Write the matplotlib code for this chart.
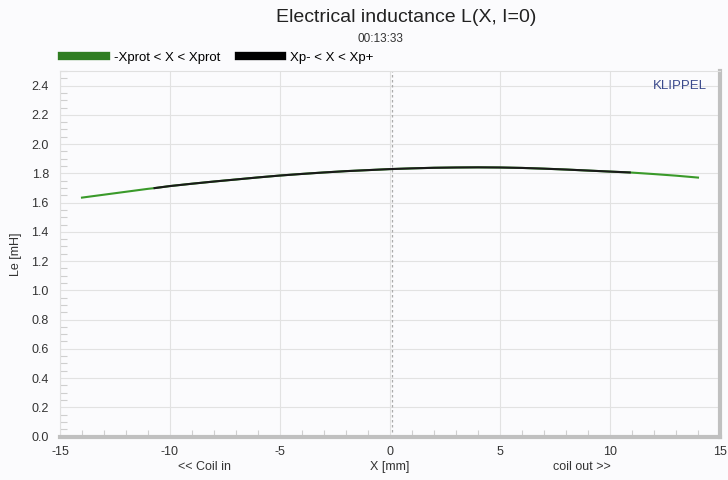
import numpy as np
import matplotlib.pyplot as plt
from matplotlib.lines import Line2D
from matplotlib.ticker import MultipleLocator

plt.rcParams['font.family'] = ['Liberation Sans', 'DejaVu Sans']
plt.rcParams['axes.unicode_minus'] = False

# inductance curve
x_mm = [-14, -13, -12, -11, -10.7, -10, -9, -8, -7, -6, -5, -4, -3, -2, -1, 0,
        1, 2, 3, 4, 5, 6, 7, 8, 9, 10, 10.9, 12, 13, 14]
le_mh = [1.634, 1.654, 1.674, 1.694, 1.699, 1.713, 1.729, 1.744, 1.758, 1.772,
         1.785, 1.796, 1.806, 1.815, 1.822, 1.829, 1.834, 1.838, 1.840, 1.841,
         1.840, 1.837, 1.832, 1.826, 1.819, 1.812, 1.806, 1.795, 1.784, 1.771]
xp_minus, xp_plus = -10.7, 10.9
x_rest = 0.1

x_ticks = [-15, -10, -5, 0, 5, 10, 15]
y_ticks = [0.0, 0.2, 0.4, 0.6, 0.8, 1.0, 1.2, 1.4, 1.6, 1.8, 2.0, 2.2, 2.4]

green = '#3a9a2a'
bg = '#fbfbfd'

x = np.array(x_mm)
y = np.array(le_mh)
inner = (x >= xp_minus) & (x <= xp_plus)

fig = plt.figure(figsize=(7.28, 4.8), dpi=100, facecolor=bg)
ax = fig.add_axes([0.0824, 0.0906, 0.9066, 0.7615], facecolor=bg)

ax.plot(x, y, color=green, lw=1.5, zorder=3)
ax.plot(x[inner], y[inner], color='#1a1a1a', lw=1.5, zorder=4)
ax.axvline(x_rest, color='#aaaaaa', lw=0.9, ls=(0, (2, 2)), zorder=2)

ax.set_xlim(-15, 15)
ax.set_ylim(0, 2.5)
ax.set_xticks(x_ticks)
ax.set_yticks(y_ticks)
ax.set_yticklabels([f'{v:.1f}' for v in y_ticks])
ax.xaxis.set_minor_locator(MultipleLocator(1))
ax.yaxis.set_minor_locator(MultipleLocator(0.05))
ax.grid(True, which='major', color='#e2e2e2', lw=0.8)
ax.tick_params(which='major', length=0, labelsize=9, colors='#333333')
ax.tick_params(axis='x', which='major', pad=7)
ax.tick_params(axis='y', which='major', pad=8)
ax.tick_params(which='minor', direction='in', length=5, color='#cfcfcf', width=0.8)

for s in ['top', 'left']:
    ax.spines[s].set_color('#e0e0e0')
    ax.spines[s].set_linewidth(0.8)
for s in ['bottom', 'right']:
    ax.spines[s].set_color('#c0c0c0')
    ax.spines[s].set_linewidth(3)

ax.set_ylabel('Le [mH]', fontsize=9, color='#333333', labelpad=7)
ax.set_xlabel('X [mm]', fontsize=9, color='#333333', labelpad=2)
fig.text(205 / 728, 1 - 467 / 480, '<< Coil in', fontsize=9, color='#333333',
         ha='center', va='center')
fig.text(582 / 728, 1 - 467 / 480, 'coil out >>', fontsize=9, color='#333333',
         ha='center', va='center')

fig.text(0.558, 1 - 17 / 480, 'Electrical inductance L(X, I=0)', fontsize=14,
         color='#222222', ha='center', va='center')
fig.text(0.522, 1 - 39 / 480, '00:13:33', fontsize=8.5, color='#333333',
         ha='center', va='center')
ax.text(0.98, 0.959, 'KLIPPEL', transform=ax.transAxes, fontsize=9.5,
        color='#3b4a8c', ha='right', va='center')

handles = [Line2D([], [], color='#2f7d22', lw=6),
           Line2D([], [], color='black', lw=6)]
fig.legend(handles, ['-Xprot < X < Xprot', 'Xp- < X < Xp+'], ncol=2,
           loc='center left', bbox_to_anchor=(0.0785, 1 - 58 / 480),
           frameon=False, fontsize=9.5, handlelength=3.3, columnspacing=1.4,
           handletextpad=0.6, borderaxespad=0)

fig.savefig('out.png', dpi=100, facecolor=bg)
